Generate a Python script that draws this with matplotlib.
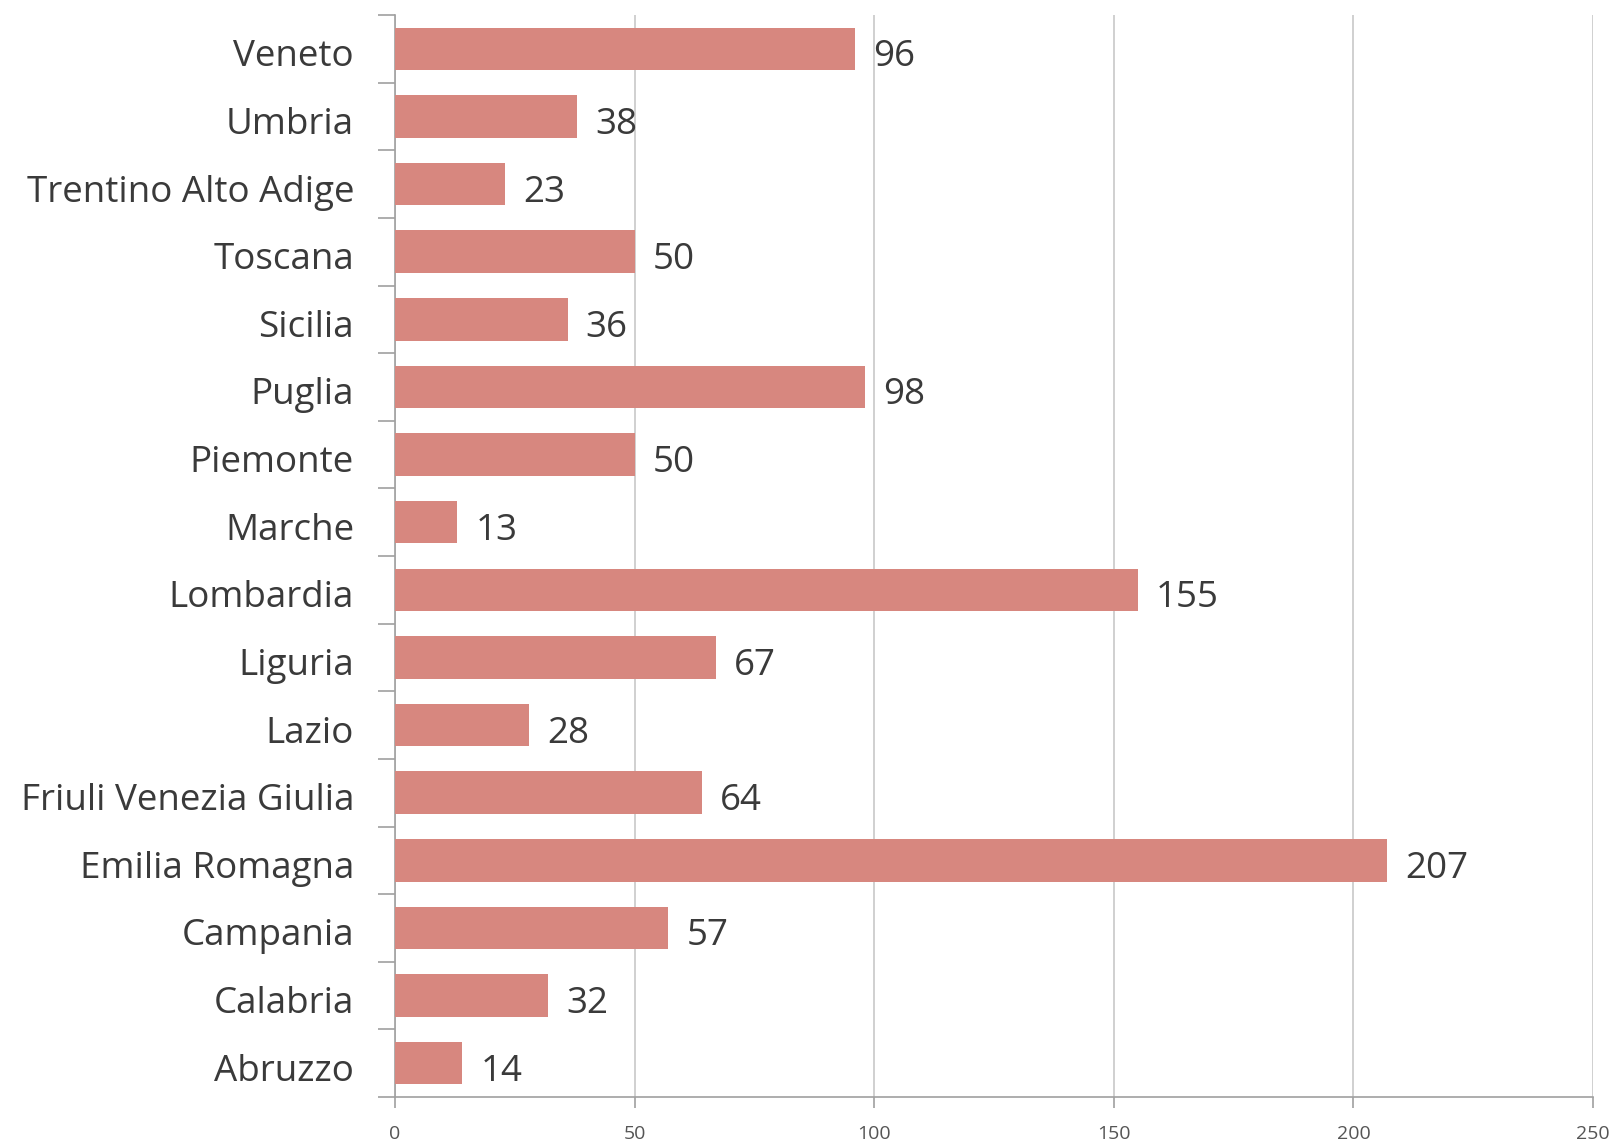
import matplotlib
matplotlib.use("Agg")
import matplotlib.pyplot as plt
import matplotlib.transforms as mtransforms
import numpy as np

regions = ["Abruzzo", "Calabria", "Campania", "Emilia Romagna", "Friuli Venezia Giulia",
           "Lazio", "Liguria", "Lombardia", "Marche", "Piemonte", "Puglia", "Sicilia",
           "Toscana", "Trentino Alto Adige", "Umbria", "Veneto"]
values = [14, 32, 57, 207, 64, 28, 67, 155, 13, 50, 98, 36, 50, 23, 38, 96]
xticks = [0, 50, 100, 150, 200, 250]

plt.rcParams['font.family'] = ['Open Sans', 'DejaVu Sans']

fig = plt.figure(figsize=(16.17, 11.46), dpi=100)
ax = fig.add_axes([395/1617, 1 - 1097/1146, (1593-395)/1617, (1097-15)/1146])

shift = mtransforms.ScaledTranslation(0, -8.5/100, fig.dpi_scale_trans)
lab_shift = mtransforms.ScaledTranslation(-41/100, -8.5/100, fig.dpi_scale_trans)

y = np.arange(len(regions))
ax.barh(y, values, height=0.63, color='#D7877F', zorder=3)
for yi, v in zip(y, values):
    ax.text(v + 3.8, yi, str(v), va='center', ha='left', fontsize=26.5, color='#3a3a3a',
            transform=ax.transData + shift)
for yi, name in zip(y, regions):
    ax.text(0, yi, name, va='center', ha='right', fontsize=26.5, color='#3a3a3a',
            transform=ax.get_yaxis_transform() + lab_shift)

ax.set_xlim(0, 250)
ax.set_ylim(-0.5, len(regions) - 0.5)
ax.set_xticks(xticks)
ax.set_xticklabels([str(t) for t in xticks], fontsize=14, color='#555555')
ax.set_yticks(y)
ax.set_yticklabels([])
ax.tick_params(axis='y', length=0)
ax.set_yticks(np.arange(-0.5, len(regions), 1), minor=True)
ax.tick_params(axis='y', which='minor', length=12, color='#a0a0a0', width=1.2)
ax.tick_params(axis='x', length=8, color='#a0a0a0', width=1.2, pad=12)
ax.grid(axis='x', color='#c8c8c8', linewidth=1.2, zorder=0)
for s in ['top', 'right']:
    ax.spines[s].set_visible(False)
for s in ['left', 'bottom']:
    ax.spines[s].set_color('#a0a0a0')
    ax.spines[s].set_linewidth(1.2)

fig.savefig('out.png', dpi=100, facecolor='white')
